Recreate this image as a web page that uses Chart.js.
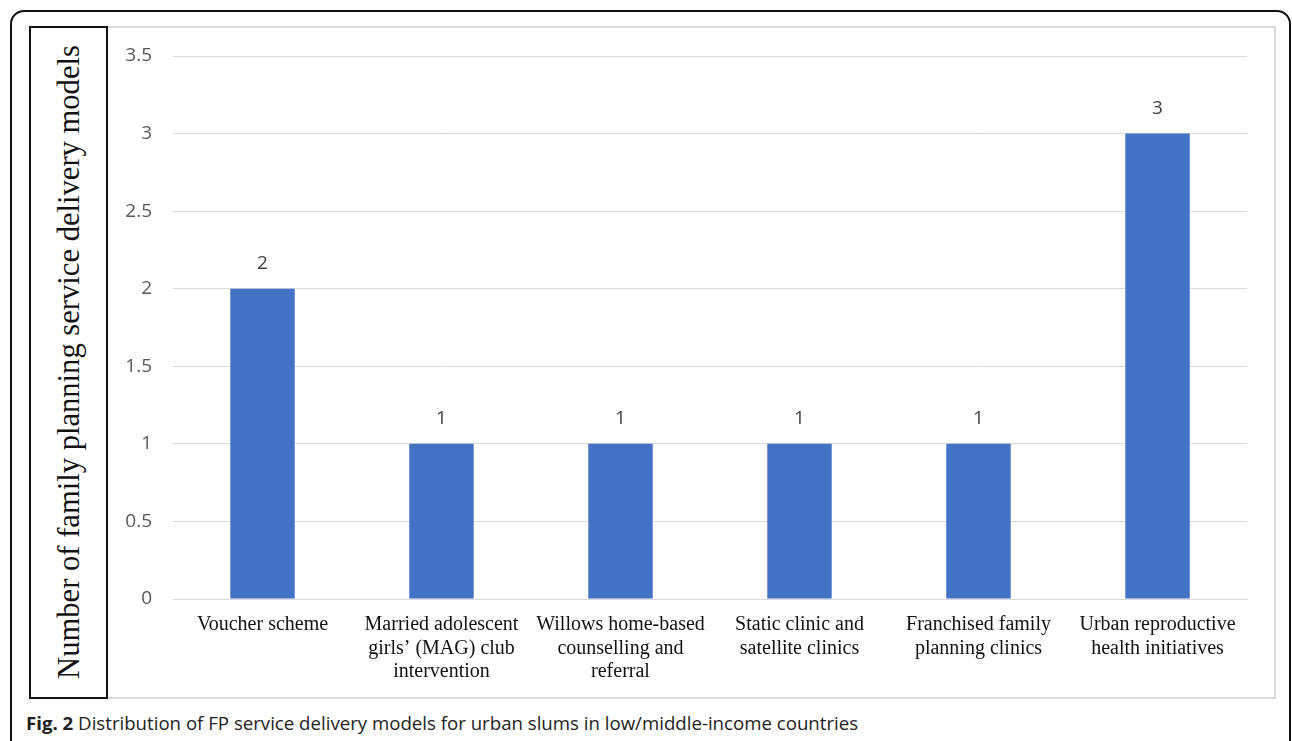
<!DOCTYPE html>
<html>
<head>
<meta charset="utf-8">
<script src="https://cdn.jsdelivr.net/npm/chart.js@4"></script>
<style>
  html, body { margin: 0; padding: 0; width: 1292px; height: 741px; overflow: hidden; background: #fff; }
  #outer { position: absolute; left: 10px; top: 10px; width: 1281px; height: 760px; border: 2px solid #111; border-radius: 14px; box-sizing: border-box; }
  #frame { position: absolute; left: 29px; top: 26px; width: 1247px; height: 673px; border: 2px solid #d9d9d9; box-sizing: border-box; }
  #ybox { position: absolute; left: 29px; top: 26px; width: 79px; height: 673px; border: 2px solid #111; box-sizing: border-box; background: #fff; }
  #ytitle { position: absolute; left: 69px; top: 362px; transform: translate(-50%, -50%) rotate(-90deg); white-space: nowrap;
            font-family: "Liberation Serif", "Times New Roman", serif; font-size: 30.6px; color: #111; }
  #wrap { position: absolute; left: 108px; top: 28px; width: 1166px; height: 669px; }
  #caption { position: absolute; left: 26px; top: 710px; font-family: "Open Sans", sans-serif; font-size: 18.65px; color: #222; white-space: nowrap; }
  #caption b { font-weight: 700; }
</style>
</head>
<body>
<div id="outer"></div>
<div id="frame"></div>
<div id="ybox"></div>
<div id="ytitle">Number of family planning service delivery models</div>
<div id="wrap"><canvas id="c"></canvas></div>
<div id="caption"><b>Fig. 2</b> Distribution of FP service delivery models for urban slums in low/middle-income countries</div>
<script>
const categories = [
  ["Voucher scheme"],
  ["Married adolescent", "girls’ (MAG) club", "intervention"],
  ["Willows home-based", "counselling and", "referral"],
  ["Static clinic and", "satellite clinics"],
  ["Franchised family", "planning clinics"],
  ["Urban reproductive", "health initiatives"]
];
const modelCounts = [2, 1, 1, 1, 1, 3];
const yTickValues = [0, 0.5, 1, 1.5, 2, 2.5, 3, 3.5];
const yTickLabels = ["0", "0.5", "1", "1.5", "2", "2.5", "3", "3.5"];

const barLabels = {
  id: 'barLabels',
  afterDatasetsDraw(chart) {
    const ctx = chart.ctx;
    const meta = chart.getDatasetMeta(0);
    ctx.save();
    ctx.font = '19px "Open Sans", sans-serif';
    ctx.fillStyle = '#404040';
    ctx.textAlign = 'center';
    ctx.textBaseline = 'middle';
    meta.data.forEach((el, i) => {
      ctx.fillText(String(modelCounts[i]), el.x, el.y - 25);
    });
    ctx.restore();
  }
};

new Chart(document.getElementById('c'), {
  type: 'bar',
  data: {
    labels: categories,
    datasets: [{
      data: modelCounts,
      backgroundColor: '#4472C4',
      barPercentage: 0.36,
      categoryPercentage: 1.0
    }]
  },
  options: {
    responsive: true,
    maintainAspectRatio: false,
    animation: false,
    layout: { padding: { top: 28, right: 27, bottom: 0, left: 0 } },
    plugins: { legend: { display: false }, tooltip: { enabled: false } },
    scales: {
      x: {
        grid: { display: false, drawTicks: false },
        border: { display: true, color: '#d9d9d9', width: 1 },
        ticks: {
          color: '#111',
          font: { family: '"Liberation Serif", "Times New Roman", serif', size: 20, lineHeight: 1.18 },
          padding: 14,
          maxRotation: 0,
          autoSkip: false
        },
        afterFit(scale) { scale.height = 98; scale.paddingLeft = 0; scale.paddingRight = 0; }
      },
      y: {
        min: 0, max: 3.5,
        afterBuildTicks(scale) { scale.ticks = yTickValues.map(v => ({ value: v })); },
        grid: { color: '#d9d9d9', lineWidth: 1, drawTicks: false },
        border: { display: false },
        ticks: {
          color: '#595959',
          font: { family: '"Open Sans", sans-serif', size: 19 },
          padding: 21,
          callback(value) { return yTickLabels[yTickValues.indexOf(value)]; }
        },
        afterFit(scale) { scale.width = 65; scale.paddingTop = 0; scale.paddingBottom = 0; }
      }
    }
  },
  plugins: [barLabels]
});
</script>
</body>
</html>
